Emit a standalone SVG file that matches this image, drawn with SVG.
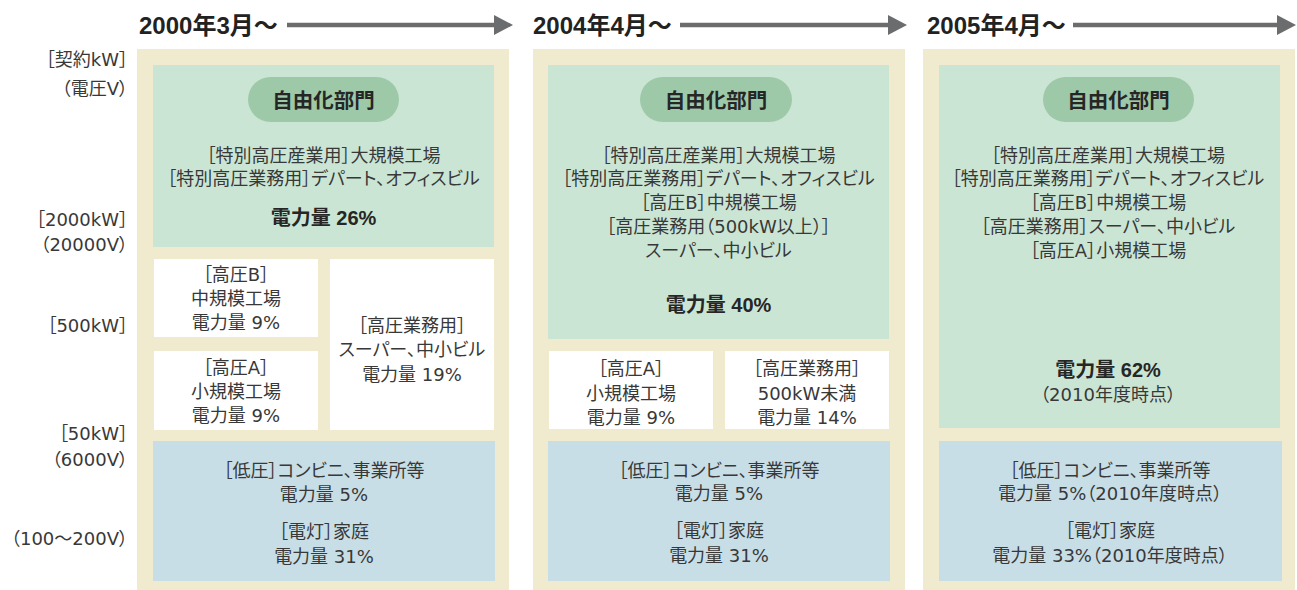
<svg xmlns="http://www.w3.org/2000/svg" width="1297" height="590" viewBox="0 0 1297 590">
<defs>
<style>
.bg{fill:#ffffff}
.beige{fill:#f0eacf}
.green{fill:#cbe5d4}
.pill{fill:#9dc9a9}
.white{fill:#ffffff}
.blue{fill:#c8dee7}
text{font-family:"Liberation Sans","Noto Sans CJK JP",sans-serif;font-feature-settings:"palt";dominant-baseline:central}
.t{font-family:"DejaVu Sans","Noto Sans CJK JP",sans-serif;font-size:18px;fill:#383838;text-anchor:middle}
.b{font-size:20px;font-weight:bold;fill:#262626;text-anchor:middle}
.p{font-size:20.5px;font-weight:bold;fill:#262626;text-anchor:middle}
.h{font-size:24px;font-weight:bold;fill:#222222}
.l{font-family:"DejaVu Sans","Noto Sans CJK JP",sans-serif;font-size:18px;fill:#383838;text-anchor:end}
.arr{stroke:#6b6c6e;stroke-width:4.5;fill:none}
</style>
<marker id="ah" markerUnits="userSpaceOnUse" markerWidth="19" markerHeight="20" refX="0" refY="10" orient="auto" viewBox="0 0 19 20">
<path d="M0,0 L19,10 L0,20 Z" fill="#6b6c6e"/>
</marker>
</defs>
<rect class="bg" x="0" y="0" width="1297" height="590"/>

<g id="axis-labels">
<text class="l" x="128" y="59">［契約kW］</text>
<text class="l" x="128" y="88">（電圧V）</text>
<text class="l" x="128" y="219">［2000kW］</text>
<text class="l" x="128" y="244">（20000V）</text>
<text class="l" x="128" y="325">［500kW］</text>
<text class="l" x="128" y="433">［50kW］</text>
<text class="l" x="128" y="459">（6000V）</text>
<text class="l" x="128" y="538">（100〜200V）</text>
</g>

<g id="headers">
<text class="h" x="139" y="25">2000年3月〜</text>
<text class="h" x="533" y="25">2004年4月〜</text>
<text class="h" x="927" y="25">2005年4月〜</text>
</g>

<g id="connectors">
<line class="arr" x1="287" y1="25" x2="494" y2="25" marker-end="url(#ah)"/>
<line class="arr" x1="680" y1="25" x2="888" y2="25" marker-end="url(#ah)"/>
<line class="arr" x1="1073" y1="25" x2="1277" y2="25" marker-end="url(#ah)"/>
</g>

<g id="col-2000">
<rect class="beige" x="137" y="49" width="372" height="541"/>
<g id="c1-free">
<rect class="green" x="153" y="65" width="341" height="182"/>
<rect class="pill" x="248" y="77" width="151" height="45" rx="22.5"/>
<text class="p" x="323.5" y="100">自由化部門</text>
<text class="t" x="323.5" y="155">［特別高圧産業用］大規模工場</text>
<text class="t" x="323.5" y="178">［特別高圧業務用］デパート、オフィスビル</text>
<text class="b" x="323.5" y="218">電力量 26%</text>
</g>
<g id="c1-hvb">
<rect class="white" x="154" y="259" width="164" height="78"/>
<text class="t" x="236" y="274">［高圧B］</text>
<text class="t" x="236" y="298">中規模工場</text>
<text class="t" x="236" y="322">電力量 9%</text>
</g>
<g id="c1-hva">
<rect class="white" x="154" y="351" width="164" height="79"/>
<text class="t" x="236" y="367">［高圧A］</text>
<text class="t" x="236" y="391">小規模工場</text>
<text class="t" x="236" y="415">電力量 9%</text>
</g>
<g id="c1-hvbiz">
<rect class="white" x="330" y="259" width="164" height="171"/>
<text class="t" x="412" y="325">［高圧業務用］</text>
<text class="t" x="412" y="349">スーパー、中小ビル</text>
<text class="t" x="412" y="374">電力量 19%</text>
</g>
<g id="c1-low">
<rect class="blue" x="153" y="441" width="342" height="140"/>
<text class="t" x="324" y="470">［低圧］コンビニ、事業所等</text>
<text class="t" x="324" y="494">電力量 5%</text>
<text class="t" x="324" y="531">［電灯］家庭</text>
<text class="t" x="324" y="556">電力量 31%</text>
</g>
</g>

<g id="col-2004">
<rect class="beige" x="533" y="49" width="372" height="541"/>
<g id="c2-free">
<rect class="green" x="548" y="65" width="341" height="274"/>
<rect class="pill" x="640" y="77" width="152" height="45" rx="22.5"/>
<text class="p" x="716" y="100">自由化部門</text>
<text class="t" x="718.5" y="155">［特別高圧産業用］大規模工場</text>
<text class="t" x="718.5" y="178">［特別高圧業務用］デパート、オフィスビル</text>
<text class="t" x="718.5" y="202">［高圧B］中規模工場</text>
<text class="t" x="718.5" y="226">［高圧業務用（500kW以上）］</text>
<text class="t" x="718.5" y="250">スーパー、中小ビル</text>
<text class="b" x="718.5" y="305">電力量 40%</text>
</g>
<g id="c2-hva">
<rect class="white" x="549" y="351" width="164" height="78"/>
<text class="t" x="631" y="368">［高圧A］</text>
<text class="t" x="631" y="393">小規模工場</text>
<text class="t" x="631" y="417">電力量 9%</text>
</g>
<g id="c2-hvbiz">
<rect class="white" x="725" y="351" width="164" height="78"/>
<text class="t" x="807" y="368">［高圧業務用］</text>
<text class="t" x="807" y="393">500kW未満</text>
<text class="t" x="807" y="417">電力量 14%</text>
</g>
<g id="c2-low">
<rect class="blue" x="548" y="441" width="342" height="140"/>
<text class="t" x="719" y="470">［低圧］コンビニ、事業所等</text>
<text class="t" x="719" y="493">電力量 5%</text>
<text class="t" x="719" y="530">［電灯］家庭</text>
<text class="t" x="719" y="555">電力量 31%</text>
</g>
</g>

<g id="col-2005">
<rect class="beige" x="923" y="49" width="372" height="541"/>
<g id="c3-free">
<rect class="green" x="939" y="65" width="341" height="363"/>
<rect class="pill" x="1043" y="77" width="151" height="45" rx="22.5"/>
<text class="p" x="1118.5" y="100">自由化部門</text>
<text class="t" x="1108" y="155">［特別高圧産業用］大規模工場</text>
<text class="t" x="1108" y="178">［特別高圧業務用］デパート、オフィスビル</text>
<text class="t" x="1108" y="202">［高圧B］中規模工場</text>
<text class="t" x="1108" y="226">［高圧業務用］スーパー、中小ビル</text>
<text class="t" x="1108" y="250">［高圧A］小規模工場</text>
<text class="b" x="1108" y="370">電力量 62%</text>
<text class="t" x="1108" y="394">（2010年度時点）</text>
</g>
<g id="c3-low">
<rect class="blue" x="939" y="441" width="343" height="140"/>
<text class="t" x="1110" y="470">［低圧］コンビニ、事業所等</text>
<text class="t" x="1110" y="493">電力量 5%（2010年度時点）</text>
<text class="t" x="1110" y="530">［電灯］家庭</text>
<text class="t" x="1110" y="555">電力量 33%（2010年度時点）</text>
</g>
</g>
</svg>
